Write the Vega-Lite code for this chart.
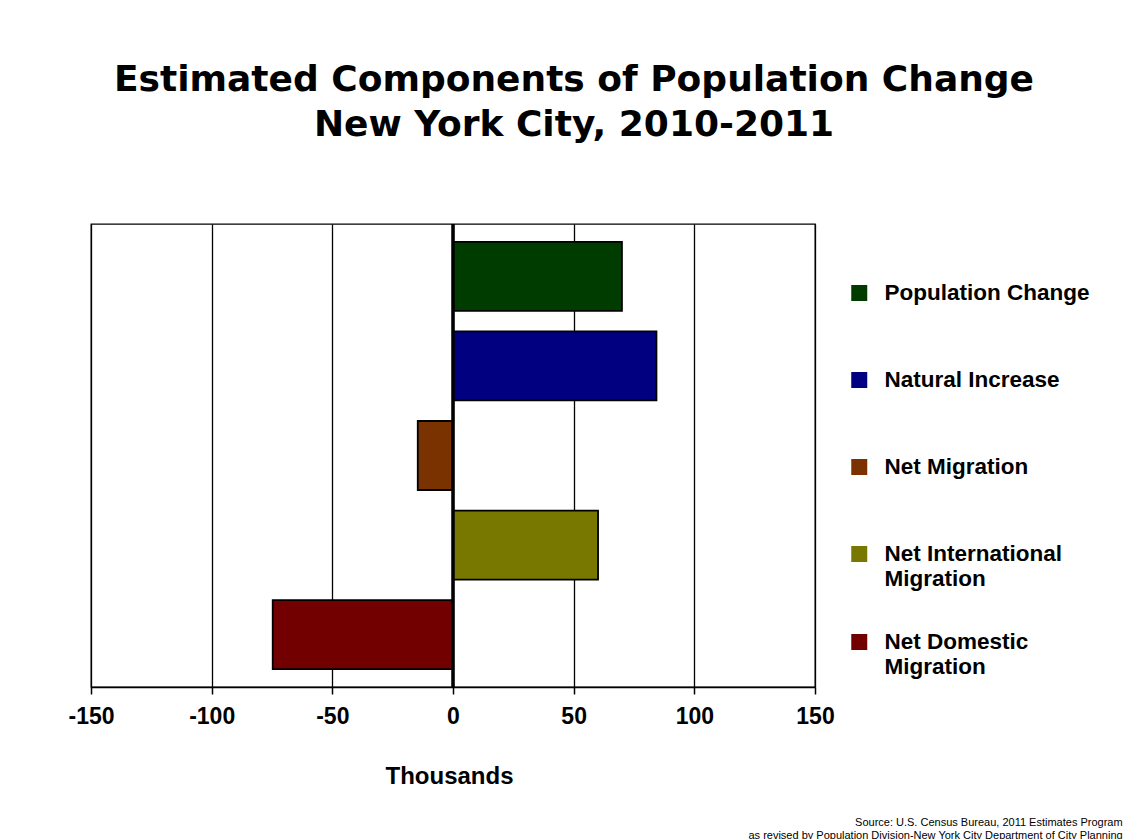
{
  "$schema": "https://vega.github.io/schema/vega-lite/v6.json",
  "padding": {"left": 67, "top": 61, "right": 0, "bottom": 6},
  "background": "white",
  "title": {
    "text": ["Source: U.S. Census Bureau, 2011 Estimates Program", "as revised by Population Division-New York City Department of City Planning"],
    "orient": "bottom",
    "anchor": "end",
    "font": "Liberation Sans",
    "fontSize": 11,
    "fontWeight": "normal",
    "lineHeight": 13,
    "color": "black",
    "offset": 28,
    "dx": 32
  },
  "resolve": {"legend": {"color": "independent"}},
  "vconcat": [
    {
      "width": 724,
      "height": 463,
      "title": {
        "text": ["Estimated Components of Population Change", "New York City, 2010-2011"],
        "font": "DejaVu Sans",
        "fontSize": 36,
        "fontWeight": "bold",
        "lineHeight": 45,
        "anchor": "middle",
        "dx": 121,
        "offset": 79,
        "color": "black"
      },
      "data": {
        "values": [
          {"component": "Population Change", "thousands": 70.0},
          {"component": "Natural Increase", "thousands": 84.3},
          {"component": "Net Migration", "thousands": -14.6},
          {"component": "Net International Migration", "thousands": 60.1},
          {"component": "Net Domestic Migration", "thousands": -74.7}
        ]
      },
      "layer": [
        {
          "mark": {"type": "bar", "stroke": "black", "strokeWidth": 1.8},
          "encoding": {
            "y": {
              "field": "component",
              "type": "nominal",
              "sort": null,
              "axis": null,
              "scale": {"paddingInner": 0.23, "paddingOuter": 0.2}
            },
            "x": {
              "field": "thousands",
              "type": "quantitative",
              "scale": {"domain": [-150, 150], "nice": false},
              "axis": {
                "values": [-150, -100, -50, 0, 50, 100, 150],
                "labelExpr": "replace(datum.label, '\u2212', '-')",
                "labelFlush": false,
                "title": "Thousands",
                "grid": true,
                "gridColor": "black",
                "gridWidth": 1.3,
                "gridOpacity": 1,
                "domainColor": "black",
                "domainWidth": 1.5,
                "tickColor": "black",
                "tickSize": 7,
                "tickWidth": 1.5,
                "labelFont": "Liberation Sans",
                "labelFontSize": 23,
                "labelFontWeight": "bold",
                "labelColor": "black",
                "labelPadding": 11,
                "titleFont": "Liberation Sans",
                "titleFontSize": 24,
                "titleFontWeight": "bold",
                "titleColor": "black",
                "titlePadding": 36,
                "titleX": 358,
                "titleAnchor": "middle"
              }
            },
            "color": {
              "field": "component",
              "type": "nominal",
              "scale": {
                "domain": ["Population Change", "Natural Increase", "Net Migration", "Net International Migration", "Net Domestic Migration"],
                "range": ["#003c00", "#000080", "#7a3300", "#787800", "#730000"]
              },
              "legend": {
                "orient": "none",
                "legendX": 757,
                "legendY": 34,
                "title": null,
                "symbolType": "square",
                "symbolSize": 256,
                "symbolStrokeWidth": 0,
                "symbolOpacity": 1,
                "labelFont": "Liberation Sans",
                "labelFontSize": 22.5,
                "labelFontWeight": "bold",
                "labelColor": "black",
                "labelLimit": 400,
                "labelOffset": 14,
                "rowPadding": 17,
                "clipHeight": 70,
                "labelExpr": "indexof(datum.label, 'Net International') == 0 || indexof(datum.label, 'Net Domestic') == 0 ? [replace(datum.label, ' Migration', ''), 'Migration'] : datum.label",
                "encode": {
                  "labels": {
                    "update": {
                      "lineHeight": {"value": 28},
                      "dy": {"signal": "indexof(datum.label, 'Net International') == 0 || indexof(datum.label, 'Net Domestic') == 0 ? -14 : 0"}
                    }
                  }
                }
              }
            }
          }
        },
        {
          "mark": {"type": "rule", "color": "black", "strokeWidth": 2.5},
          "encoding": {"x": {"datum": 0}}
        }
      ]
    }
  ],
  "config": {
    "view": {"stroke": "black", "strokeWidth": 1.3}
  }
}
